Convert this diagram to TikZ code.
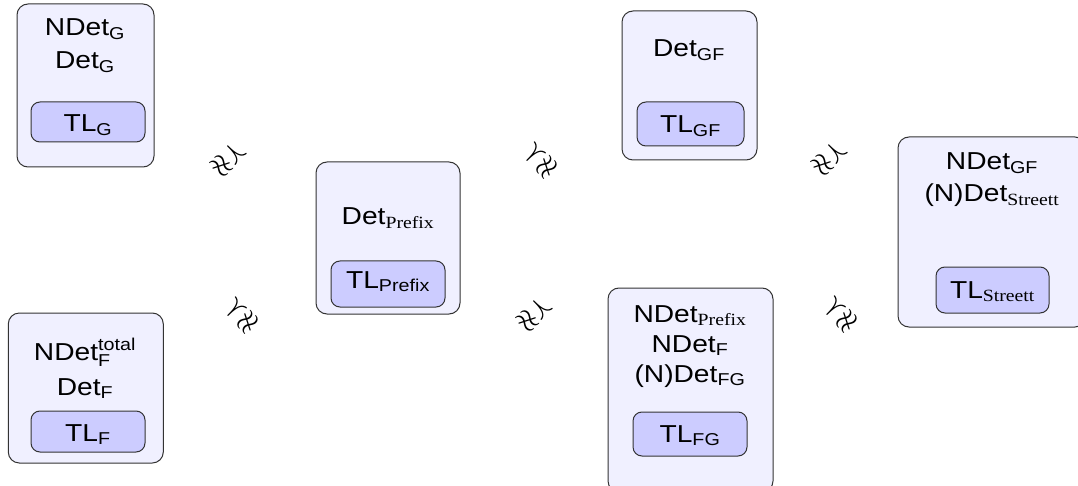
\documentclass[tikz,border=0pt]{standalone}
\usepackage{amsmath,amssymb}
\usepackage{graphicx}
\usepackage{fontspec}
\setmainfont{Liberation Sans}
\newfontfamily\serif{Liberation Serif}
\definecolor{outerfill}{HTML}{F0F0FF}
\definecolor{innerfill}{HTML}{CCCCFF}
\definecolor{edgecol}{HTML}{333333}
\newcommand{\widen}[1]{\scalebox{1.15}[1]{#1}}
\tikzset{
  outerbox/.style={draw=edgecol, fill=outerfill, line width=1pt, rounded corners=11pt, inner sep=0pt},
  innerbox/.style={draw=edgecol, fill=innerfill, line width=1pt, rounded corners=9pt, inner sep=0pt},
  txt/.style={anchor=base, inner sep=0pt, font=\fontsize{24.5}{28}\selectfont},
  rel/.style={inner sep=0pt, font=\fontsize{32}{32}\selectfont}
}
\newcommand{\sub}[1]{$_{\text{#1}}$}
\newcommand{\ssub}[1]{$_{\text{\serif #1}}$}
\begin{document}
\begin{tikzpicture}[x=1pt,y=-1pt]
\useasboundingbox (0,0) rectangle (1078,486);
\clip (0,0) rectangle (1078,486);
\fill[white] (0,0) rectangle (1078,486);
% TL_G
\node[outerbox, minimum width=137pt, minimum height=163pt] (G) at (85.5,85.5) {};
\node[txt] (G1) at (85,36) {\widen{NDet\sub{G}}};
\node[txt] (G2) at (85,69) {\widen{Det\sub{G}}};
\node[innerbox, minimum width=114pt, minimum height=40pt] (Gi) at (88,122) {};
\node[txt] (Gt) at (88,132) {\widen{TL\sub{G}}};
% TL_F
\node[outerbox, minimum width=155pt, minimum height=150pt] (F) at (85.8,388) {};
\node[txt] (F1) at (85,360) {\widen{NDet$^{\text{total}}_{\text{F}}$}};
\node[txt] (F2) at (85,395) {\widen{Det\sub{F}}};
\node[innerbox, minimum width=114pt, minimum height=41pt] (Fi) at (88,431.5) {};
\node[txt] (Ft) at (88,441) {\widen{TL\sub{F}}};
% TL_Prefix
\node[outerbox, minimum width=144pt, minimum height=152pt] (P) at (388,238) {};
\node[txt] (P1) at (388,225) {\widen{Det\ssub{Prefix}}};
\node[innerbox, minimum width=114pt, minimum height=46pt] (Pi) at (388,284) {};
\node[txt] (Pt) at (388,288) {\widen{TL\sub{Prefix}}};
% TL_GF
\node[outerbox, minimum width=135pt, minimum height=149pt] (GF) at (689.5,85.5) {};
\node[txt] (GF1) at (689,57) {\widen{Det\sub{GF}}};
\node[innerbox, minimum width=107pt, minimum height=44pt] (GFi) at (690.5,124) {};
\node[txt] (GFt) at (690.5,133) {\widen{TL\sub{GF}}};
% TL_FG
\node[outerbox, minimum width=165pt, minimum height=204pt] (FG) at (690.5,390) {};
\node[txt] (FG1) at (690,322) {\widen{NDet\ssub{Prefix}}};
\node[txt] (FG2) at (690,352) {\widen{NDet\sub{F}}};
\node[txt] (FG3) at (690,382) {\widen{(N)Det\sub{FG}}};
\node[innerbox, minimum width=114pt, minimum height=44pt] (FGi) at (690,434) {};
\node[txt] (FGt) at (690,442) {\widen{TL\sub{FG}}};
% TL_Streett
\node[outerbox, minimum width=188pt, minimum height=190pt] (S) at (992,232) {};
\node[txt] (S1) at (992,170) {\widen{NDet\sub{GF}}};
\node[txt] (S2) at (992,202) {\widen{(N)Det\ssub{Streett}}};
\node[innerbox, minimum width=113pt, minimum height=46pt] (Si) at (992.5,290) {};
\node[txt] (St) at (992.5,298) {\widen{TL\ssub{Streett}}};
% relations
\node[rel, rotate=-45] (r1) at (229,159) {$\precnapprox$};
\node[rel, rotate=45] (r2) at (241,315) {$\precnapprox$};
\node[rel, rotate=45] (r3) at (540,160) {$\precnapprox$};
\node[rel, rotate=-45] (r4) at (535,314) {$\precnapprox$};
\node[rel, rotate=-45] (r5) at (830,158) {$\precnapprox$};
\node[rel, rotate=45] (r6) at (840,314) {$\precnapprox$};
\end{tikzpicture}
\end{document}
